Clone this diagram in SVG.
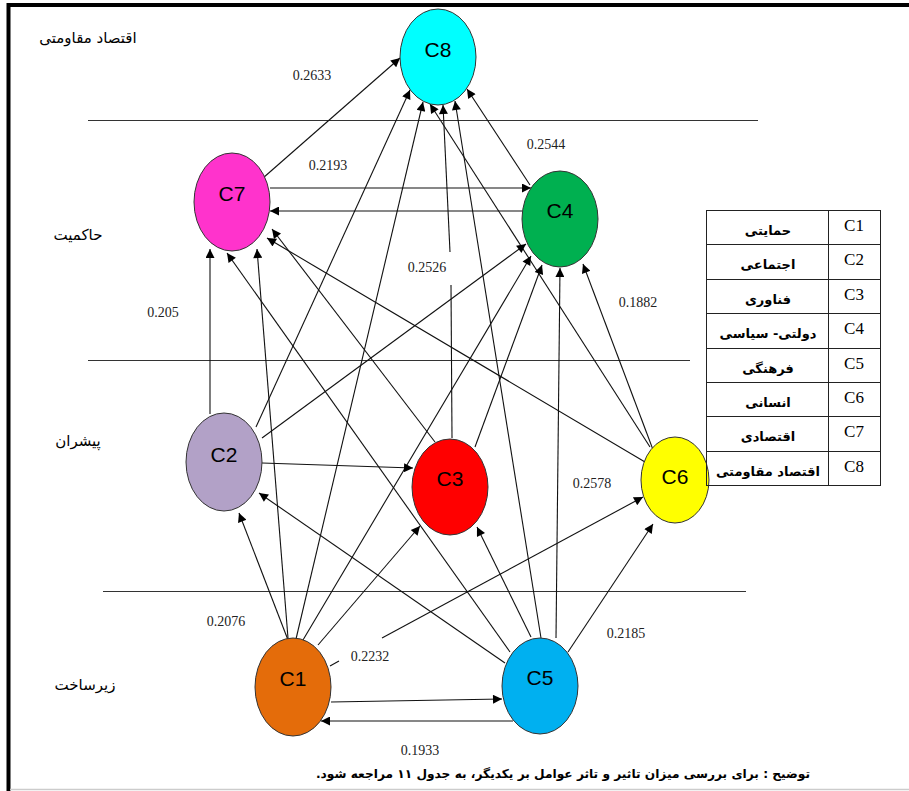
<svg xmlns="http://www.w3.org/2000/svg" width="909" height="791" viewBox="0 0 909 791">
<style>
.bg{fill:#fff}
.sep{stroke:#333;stroke-width:1.2;fill:none}
.node ellipse{stroke:#333;stroke-width:1}
.node text{font-family:"Liberation Sans",Arial,sans-serif;font-size:21px;fill:#000;text-anchor:middle}
.edge{stroke:#111;stroke-width:1.1;fill:none}
.num{font-family:"Liberation Serif","Times New Roman",serif;font-size:14px;fill:#222;text-anchor:middle}
.fa{font-family:"DejaVu Sans",sans-serif;direction:rtl;text-anchor:middle;fill:#000}
.sec{font-size:15px}
.tbl{fill:none;stroke:#222;stroke-width:1}
.tc{font-family:"Liberation Serif","Times New Roman",serif;font-size:17px;text-anchor:middle;fill:#000}
.tf{font-size:13px;font-weight:bold}
.cap{font-size:12.2px;font-weight:bold}
</style>
<defs>
<marker id="ah" viewBox="0 0 10 10" refX="10" refY="5" markerWidth="11" markerHeight="9" markerUnits="userSpaceOnUse" orient="auto">
<path d="M0,0 L10,5 L0,10 z" fill="#000"/>
</marker>
</defs>
<rect class="bg" x="0" y="0" width="909" height="791"/>
<g id="frame">
<line x1="8.5" y1="3" x2="8.5" y2="791" stroke="#000" stroke-width="4"/>
<line x1="7" y1="5" x2="909" y2="5" stroke="#000" stroke-width="4"/>
<line x1="10" y1="789.5" x2="909" y2="789.5" stroke="#ccc" stroke-width="1.5"/>
</g>
<g id="separators">
<line class="sep" x1="88" y1="120.5" x2="758" y2="120.5"/>
<line class="sep" x1="88" y1="360.5" x2="690" y2="360.5"/>
<line class="sep" x1="103" y1="591.5" x2="746" y2="591.5" stroke-width="1.6"/>
</g>
<g id="sections">
<text class="fa sec" x="88" y="43">اقتصاد مقاومتی</text>
<text class="fa sec" x="78" y="240">حاکمیت</text>
<text class="fa sec" x="78" y="446">پیشران</text>
<text class="fa sec" x="85" y="690">زیرساخت</text>
</g>
<g id="connectors">
<line class="edge" x1="263" y1="178" x2="400" y2="58" marker-end="url(#ah)"/>
<line class="edge" x1="256" y1="427" x2="410" y2="90" marker-end="url(#ah)"/>
<line class="edge" x1="296" y1="639" x2="423" y2="102" marker-end="url(#ah)"/>
<line class="edge" x1="452" y1="438" x2="451" y2="285"/>
<line class="edge" x1="450" y1="252" x2="443" y2="105" marker-end="url(#ah)"/>
<line class="edge" x1="650" y1="447" x2="430" y2="104" marker-end="url(#ah)"/>
<line class="edge" x1="541" y1="638" x2="455" y2="101" marker-end="url(#ah)"/>
<line class="edge" x1="530" y1="185" x2="467" y2="89" marker-end="url(#ah)"/>
<line class="edge" x1="270" y1="188" x2="531" y2="188" marker-end="url(#ah)"/>
<line class="edge" x1="522" y1="211" x2="270" y2="211" marker-end="url(#ah)"/>
<line class="edge" x1="262" y1="438" x2="526" y2="244" marker-end="url(#ah)"/>
<line class="edge" x1="303" y1="640" x2="531" y2="256" marker-end="url(#ah)"/>
<line class="edge" x1="475" y1="447" x2="542" y2="265" marker-end="url(#ah)"/>
<line class="edge" x1="556" y1="638" x2="560" y2="268" marker-end="url(#ah)"/>
<line class="edge" x1="655" y1="455" x2="583" y2="264" marker-end="url(#ah)"/>
<line class="edge" x1="210" y1="414" x2="210" y2="249" marker-end="url(#ah)"/>
<line class="edge" x1="510" y1="652" x2="227" y2="253" marker-end="url(#ah)"/>
<line class="edge" x1="288" y1="638" x2="257" y2="249" marker-end="url(#ah)"/>
<line class="edge" x1="435" y1="442" x2="272" y2="229" marker-end="url(#ah)"/>
<line class="edge" x1="645" y1="462" x2="267" y2="238" marker-end="url(#ah)"/>
<line class="edge" x1="288" y1="640" x2="239" y2="513" marker-end="url(#ah)"/>
<line class="edge" x1="505" y1="663" x2="259" y2="493" marker-end="url(#ah)"/>
<line class="edge" x1="262" y1="463" x2="413" y2="468" marker-end="url(#ah)"/>
<line class="edge" x1="318" y1="645" x2="420" y2="526" marker-end="url(#ah)"/>
<line class="edge" x1="531" y1="637" x2="477" y2="527" marker-end="url(#ah)"/>
<line class="edge" x1="330" y1="666" x2="339" y2="661"/>
<line class="edge" x1="382" y1="638" x2="643" y2="497" marker-end="url(#ah)"/>
<line class="edge" x1="568" y1="652" x2="653" y2="524" marker-end="url(#ah)"/>
<line class="edge" x1="331" y1="702" x2="502" y2="699" marker-end="url(#ah)"/>
<line class="edge" x1="513" y1="721" x2="321" y2="721" marker-end="url(#ah)"/>
</g>
<g id="C8" class="node"><ellipse cx="438" cy="57" rx="38" ry="48" fill="#00FFFF"/><text x="438" y="57">C8</text></g>
<g id="C4" class="node"><ellipse cx="560" cy="219" rx="38" ry="48" fill="#00B050"/><text x="560" y="218">C4</text></g>
<g id="C7" class="node"><ellipse cx="232" cy="202" rx="38" ry="49" fill="#FF33CC"/><text x="232" y="201">C7</text></g>
<g id="C2" class="node"><ellipse cx="224" cy="462" rx="38" ry="49" fill="#B2A1C7"/><text x="224" y="462">C2</text></g>
<g id="C3" class="node"><ellipse cx="450" cy="487" rx="38" ry="48" fill="#FF0000"/><text x="450" y="486">C3</text></g>
<g id="C6" class="node"><ellipse cx="675" cy="480" rx="34" ry="43" fill="#FFFF00"/><text x="675" y="484">C6</text></g>
<g id="C5" class="node"><ellipse cx="540" cy="686" rx="38" ry="48" fill="#00B0F0"/><text x="540" y="685">C5</text></g>
<g id="C1" class="node"><ellipse cx="293" cy="687" rx="38" ry="49" fill="#E46C0A"/><text x="293" y="686">C1</text></g>
<g id="weights">
<text class="num" x="312" y="80">0.2633</text>
<text class="num" x="328" y="170">0.2193</text>
<text class="num" x="546" y="149">0.2544</text>
<text class="num" x="427" y="272">0.2526</text>
<text class="num" x="163" y="317">0.205</text>
<text class="num" x="638" y="307">0.1882</text>
<text class="num" x="592" y="488">0.2578</text>
<text class="num" x="226" y="626">0.2076</text>
<text class="num" x="370" y="661">0.2232</text>
<text class="num" x="626" y="638">0.2185</text>
<text class="num" x="420" y="755">0.1933</text>
</g>
<g id="legend">
<rect class="tbl" x="706.5" y="210.5" width="174" height="275"/>
<line class="tbl" x1="828.5" y1="210.5" x2="828.5" y2="485.5"/>
<line class="tbl" x1="706.5" y1="244.5" x2="880.5" y2="244.5"/>
<line class="tbl" x1="706.5" y1="279.5" x2="880.5" y2="279.5"/>
<line class="tbl" x1="706.5" y1="313.5" x2="880.5" y2="313.5"/>
<line class="tbl" x1="706.5" y1="348.5" x2="880.5" y2="348.5"/>
<line class="tbl" x1="706.5" y1="382.5" x2="880.5" y2="382.5"/>
<line class="tbl" x1="706.5" y1="416.5" x2="880.5" y2="416.5"/>
<line class="tbl" x1="706.5" y1="451.5" x2="880.5" y2="451.5"/>
<text class="tc" x="854" y="231">C1</text>
<text class="tc" x="854" y="265">C2</text>
<text class="tc" x="854" y="300">C3</text>
<text class="tc" x="854" y="334">C4</text>
<text class="tc" x="854" y="369">C5</text>
<text class="tc" x="854" y="403">C6</text>
<text class="tc" x="854" y="437">C7</text>
<text class="tc" x="854" y="472">C8</text>
<text class="fa tf" x="768" y="235">حمایتی</text>
<text class="fa tf" x="768" y="269">اجتماعی</text>
<text class="fa tf" x="768" y="304">فناوری</text>
<text class="fa tf" x="768" y="338">دولتی- سیاسی</text>
<text class="fa tf" x="768" y="373">فرهنگی</text>
<text class="fa tf" x="768" y="407">انسانی</text>
<text class="fa tf" x="768" y="441">اقتصادی</text>
<text class="fa tf" x="768" y="476">اقتصاد مقاومتی</text>
</g>
<g id="caption">
<text class="fa cap" x="563" y="778">توضیح : برای بررسی میزان تاثیر و تاثر عوامل بر یکدیگر، به جدول ۱۱ مراجعه شود.</text>
</g>
</svg>
